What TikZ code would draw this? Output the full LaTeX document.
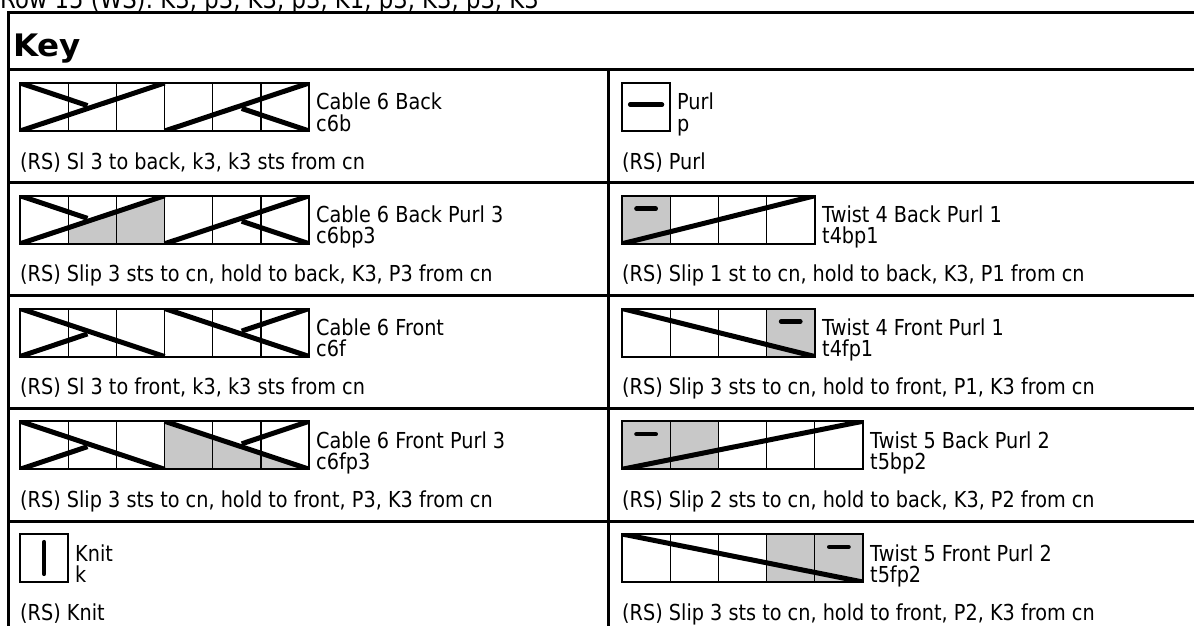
\documentclass[tikz,border=0pt]{standalone}
\usepackage{fontspec}
\setmainfont{DejaVu Sans}[FakeStretch=0.875]
\newfontfamily\keyfont{DejaVu Sans}[FakeStretch=1.05]
\definecolor{purlgrey}{RGB}{200,200,200}
\tikzset{
  gridline/.style={line width=1.3pt},
  chartframe/.style={line width=2pt},
  cableline/.style={line width=5pt},
  purldash/.style={line width=4.5pt,line cap=round},
  rule/.style={line width=3pt},
  txt/.style={anchor=base west,inner sep=0pt,font=\fontsize{22}{24}\selectfont},
}

\begin{document}
\begin{tikzpicture}[x=1pt,y=-1pt]
\useasboundingbox (0,0) rectangle (1194,626);
\begin{scope}
\clip (0,0) rectangle (1194,626);

\node[txt,font=\fontsize{26}{28}\selectfont] (rowline) at (0,9) {Row 15 (WS): K3, p3, K3, p3, K1, p3, K3, p3, K3};

\draw[rule] (8.5,12.5) -- (1200,12.5);
\draw[rule] (8.5,11) -- (8.5,630);
\draw[rule] (8.5,70) -- (1200,70);
\foreach \yy in {182.75,295.5,408.25,521}
  \draw[rule] (8.5,\yy) -- (1200,\yy);
\draw[rule] (608,70) -- (608,630);

\node[anchor=base west,inner sep=0pt,font=\keyfont\bfseries\fontsize{31}{33}\selectfont] (keytitle) at (13,57) {Key};

% cable 6 back
\begin{scope}[shift={(20,83)},x=48.2pt,y=-48pt]
  \begin{scope}
    \clip (0,0) rectangle (6,1);
    \foreach \i in {1,...,5} \draw[gridline] (\i,0) -- (\i,1);
    \draw[cableline] (0,1) -- (3,0);
    \draw[cableline] (0,0) -- (1.4,0.47);
    \draw[cableline] (3,1) -- (6,0);
    \draw[cableline] (4.6,0.53) -- (6,1);
  \end{scope}
  \draw[chartframe] (0,0) rectangle (6,1);
\end{scope}
\node[txt] (c6bname) at (316,110) {Cable 6 Back};
\node[txt] (c6babbr) at (316,131) {c6b};
\node[txt] (c6bdesc) at (20,169) {(RS) Sl 3 to back, k3, k3 sts from cn};

% cable 6 back purl 3
\begin{scope}[shift={(20,195.75)},x=48.2pt,y=-48pt]
  \begin{scope}
    \clip (0,0) rectangle (6,1);
    \fill[purlgrey] (1,2/3) -- (3,0) -- (3,1) -- (1,1) -- cycle;
    \foreach \i in {1,...,5} \draw[gridline] (\i,0) -- (\i,1);
    \draw[cableline] (0,1) -- (3,0);
    \draw[cableline] (0,0) -- (1.4,0.47);
    \draw[cableline] (3,1) -- (6,0);
    \draw[cableline] (4.6,0.53) -- (6,1);
  \end{scope}
  \draw[chartframe] (0,0) rectangle (6,1);
\end{scope}
\node[txt] (c6bpname) at (316,222.75) {Cable 6 Back Purl 3};
\node[txt] (c6bpabbr) at (316,243.75) {c6bp3};
\node[txt] (c6bpdesc) at (20,281.75) {(RS) Slip 3 sts to cn, hold to back, K3, P3 from cn};

% cable 6 front
\begin{scope}[shift={(20,308.5)},x=48.2pt,y=-48pt]
  \begin{scope}
    \clip (0,0) rectangle (6,1);
    \foreach \i in {1,...,5} \draw[gridline] (\i,0) -- (\i,1);
    \draw[cableline] (0,0) -- (3,1);
    \draw[cableline] (0,1) -- (1.4,0.53);
    \draw[cableline] (3,0) -- (6,1);
    \draw[cableline] (4.6,0.47) -- (6,0);
  \end{scope}
  \draw[chartframe] (0,0) rectangle (6,1);
\end{scope}
\node[txt] (c6fname) at (316,335.5) {Cable 6 Front};
\node[txt] (c6fabbr) at (316,356.5) {c6f};
\node[txt] (c6fdesc) at (20,394.5) {(RS) Sl 3 to front, k3, k3 sts from cn};

% cable 6 front purl 3
\begin{scope}[shift={(20,421.25)},x=48.2pt,y=-48pt]
  \begin{scope}
    \clip (0,0) rectangle (6,1);
    \fill[purlgrey] (3,0) -- (6,1) -- (3,1) -- cycle;
    \foreach \i in {1,...,5} \draw[gridline] (\i,0) -- (\i,1);
    \draw[cableline] (0,0) -- (3,1);
    \draw[cableline] (0,1) -- (1.4,0.53);
    \draw[cableline] (3,0) -- (6,1);
    \draw[cableline] (4.6,0.47) -- (6,0);
  \end{scope}
  \draw[chartframe] (0,0) rectangle (6,1);
\end{scope}
\node[txt] (c6fpname) at (316,448.25) {Cable 6 Front Purl 3};
\node[txt] (c6fpabbr) at (316,469.25) {c6fp3};
\node[txt] (c6fpdesc) at (20,507.25) {(RS) Slip 3 sts to cn, hold to front, P3, K3 from cn};

% knit
\begin{scope}[shift={(20,534)},x=48.2pt,y=-48pt]
  \draw[purldash] (0.5,0.17) -- (0.5,0.83);
  \draw[chartframe] (0,0) rectangle (1,1);
\end{scope}
\node[txt] (knitname) at (75,561) {Knit};
\node[txt] (knitabbr) at (75,582) {k};
\node[txt] (knitdesc) at (20,620) {(RS) Knit};

% purl
\begin{scope}[shift={(622,83)},x=48.2pt,y=-48pt]
  \draw[purldash] (0.17,0.45) -- (0.83,0.45);
  \draw[chartframe] (0,0) rectangle (1,1);
\end{scope}
\node[txt] (purlname) at (677,110) {Purl};
\node[txt] (purlabbr) at (677,131) {p};
\node[txt] (purldesc) at (622,169) {(RS) Purl};

% twist 4 back purl 1
\begin{scope}[shift={(622,195.75)},x=48.2pt,y=-48pt]
  \begin{scope}
    \clip (0,0) rectangle (4,1);
    \fill[purlgrey] (0,0) rectangle (1,1);
    \foreach \i in {1,...,3} \draw[gridline] (\i,0) -- (\i,1);
    \draw[purldash] (0.3,0.27) -- (0.7,0.27);
    \draw[cableline] (0,1) -- (4,0);
  \end{scope}
  \draw[chartframe] (0,0) rectangle (4,1);
\end{scope}
\node[txt] (t4bpname) at (822,222.75) {Twist 4 Back Purl 1};
\node[txt] (t4bpabbr) at (822,243.75) {t4bp1};
\node[txt] (t4bpdesc) at (622,281.75) {(RS) Slip 1 st to cn, hold to back, K3, P1 from cn};

% twist 4 front purl 1
\begin{scope}[shift={(622,308.5)},x=48.2pt,y=-48pt]
  \begin{scope}
    \clip (0,0) rectangle (4,1);
    \fill[purlgrey] (3,0) rectangle (4,1);
    \foreach \i in {1,...,3} \draw[gridline] (\i,0) -- (\i,1);
    \draw[purldash] (3.3,0.27) -- (3.7,0.27);
    \draw[cableline] (0,0) -- (4,1);
  \end{scope}
  \draw[chartframe] (0,0) rectangle (4,1);
\end{scope}
\node[txt] (t4fpname) at (822,335.5) {Twist 4 Front Purl 1};
\node[txt] (t4fpabbr) at (822,356.5) {t4fp1};
\node[txt] (t4fpdesc) at (622,394.5) {(RS) Slip 3 sts to cn, hold to front, P1, K3 from cn};

% twist 5 back purl 2
\begin{scope}[shift={(622,421.25)},x=48.2pt,y=-48pt]
  \begin{scope}
    \clip (0,0) rectangle (5,1);
    \fill[purlgrey] (0,0) rectangle (2,1);
    \foreach \i in {1,...,4} \draw[gridline] (\i,0) -- (\i,1);
    \draw[purldash] (0.3,0.27) -- (0.7,0.27);
    \draw[cableline] (0,1) -- (5,0);
  \end{scope}
  \draw[chartframe] (0,0) rectangle (5,1);
\end{scope}
\node[txt] (t5bpname) at (870,448.25) {Twist 5 Back Purl 2};
\node[txt] (t5bpabbr) at (870,469.25) {t5bp2};
\node[txt] (t5bpdesc) at (622,507.25) {(RS) Slip 2 sts to cn, hold to back, K3, P2 from cn};

% twist 5 front purl 2
\begin{scope}[shift={(622,534)},x=48.2pt,y=-48pt]
  \begin{scope}
    \clip (0,0) rectangle (5,1);
    \fill[purlgrey] (3,0) rectangle (5,1);
    \foreach \i in {1,...,4} \draw[gridline] (\i,0) -- (\i,1);
    \draw[purldash] (4.3,0.27) -- (4.7,0.27);
    \draw[cableline] (0,0) -- (5,1);
  \end{scope}
  \draw[chartframe] (0,0) rectangle (5,1);
\end{scope}
\node[txt] (t5fpname) at (870,561) {Twist 5 Front Purl 2};
\node[txt] (t5fpabbr) at (870,582) {t5fp2};
\node[txt] (t5fpdesc) at (622,620) {(RS) Slip 3 sts to cn, hold to front, P2, K3 from cn};

\end{scope}
\end{tikzpicture}
\end{document}
